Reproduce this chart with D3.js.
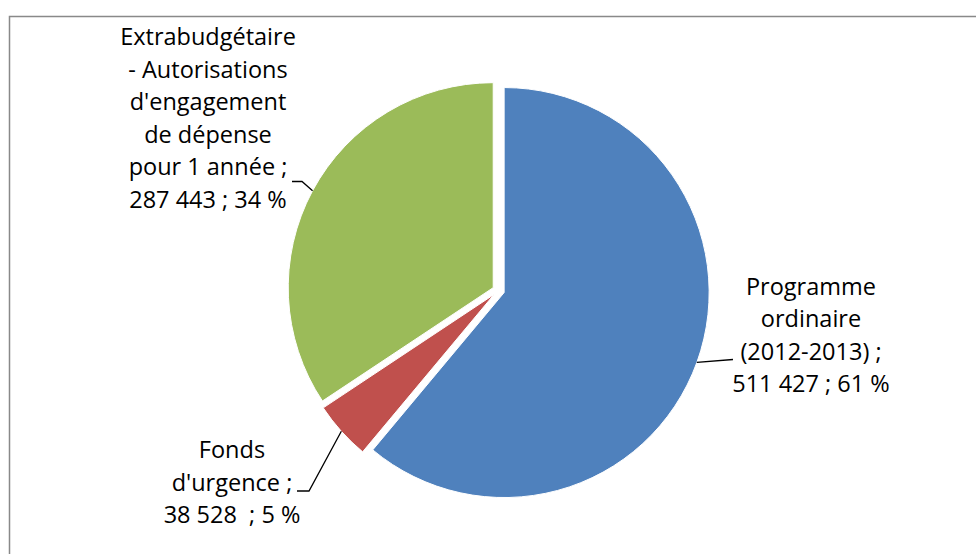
<!DOCTYPE html>
<html>
<head>
<meta charset="utf-8">
<script src="https://cdn.jsdelivr.net/npm/d3@7"></script>
<style>
  html, body { margin: 0; padding: 0; background: #fff; }
  svg { display: block; }
  text { font-family: "Open Sans", Lato, sans-serif; font-size: 23.5px; fill: #000; }
</style>
</head>
<body>
<svg id="chart" width="976" height="554"></svg>
<script>
// Budget split (in thousands), slices drawn clockwise from 12 o'clock
const categories = [
  "Programme ordinaire (2012-2013)",
  "Fonds d'urgence",
  "Extrabudgétaire - Autorisations d'engagement de dépense pour 1 année"
];
const values = [511427, 38528, 287443];
const colors = ["#4F81BD", "#C0504D", "#9BBB59"];
// How each category name wraps inside its data label
const nameLines = [
  ["Programme", "ordinaire", "(2012-2013)"],
  ["Fonds", "d'urgence"],
  ["Extrabudgétaire", "- Autorisations", "d'engagement", "de dépense", "pour 1 année"]
];
const valueSeparators = [" ; ", "  ; ", " ; "];

// Layout
const width = 976, height = 554;
const cx = 498.5, cy = 290.5, radius = 205, explode = 6;
const lineHeight = 32.6;
// label block: centre x, baseline of first line, leader elbow (x,y) and elbow-to-text end x
const labelLayout = [
  { x: 811, y: 294.5, elbow: [733, 359.5] },
  { x: 232, y: 458,   elbow: [309, 491], end: 297 },
  { x: 208, y: 45,    elbow: [302, 181.5], end: 292 }
];

const svg = d3.select("#chart");

// chart area frame
svg.append("rect")
  .attr("x", 9.5).attr("y", 16.5)
  .attr("width", 1200).attr("height", 1200)
  .attr("fill", "none")
  .attr("stroke", "#898989")
  .attr("stroke-width", 1.5);

const fmtLocale = d3.formatLocale({ decimal: ",", thousands: " ", grouping: [3], currency: ["", ""] });
const fmtNum = fmtLocale.format(",d");
const total = d3.sum(values);

const pie = d3.pie().sort(null).value(d => d)(values);
const arc = d3.arc().innerRadius(0).outerRadius(radius);
const edge = d3.arc().innerRadius(radius).outerRadius(radius);

const g = svg.append("g").attr("transform", `translate(${cx},${cy})`);

const offset = d => {
  const a = (d.startAngle + d.endAngle) / 2;
  return [explode * Math.sin(a), -explode * Math.cos(a)];
};

g.selectAll("path.slice")
  .data(pie)
  .join("path")
  .attr("class", "slice")
  .attr("d", arc)
  .attr("transform", d => `translate(${offset(d)})`)
  .attr("fill", (d, i) => colors[i])
  .attr("stroke", "#fff")
  .attr("stroke-width", 1);

// leader lines from the middle of each slice's rim to the label
pie.forEach((d, i) => {
  const [ox, oy] = offset(d);
  const [ex, ey] = edge.centroid(d);
  const p0 = [cx + ox + ex, cy + oy + ey];
  const L = labelLayout[i];
  const pts = [p0, L.elbow];
  if (L.end !== undefined) pts.push([L.end, L.elbow[1]]);
  svg.append("path")
    .attr("d", d3.line()(pts))
    .attr("fill", "none")
    .attr("stroke", "#000")
    .attr("stroke-width", 1.3);
});

// data labels: name ; value ; percent
pie.forEach((d, i) => {
  const L = labelLayout[i];
  const lines = nameLines[i].slice();
  lines[lines.length - 1] += " ;";
  const pct = Math.round(values[i] / total * 100);
  lines.push(fmtNum(values[i]) + valueSeparators[i] + pct + " %");
  const t = svg.append("text")
    .attr("text-anchor", "middle")
    .attr("xml:space", "preserve")
    .style("white-space", "pre");
  lines.forEach((s, k) => {
    t.append("tspan")
      .attr("x", L.x)
      .attr("y", L.y + k * lineHeight)
      .text(s);
  });
});
</script>
</body>
</html>
